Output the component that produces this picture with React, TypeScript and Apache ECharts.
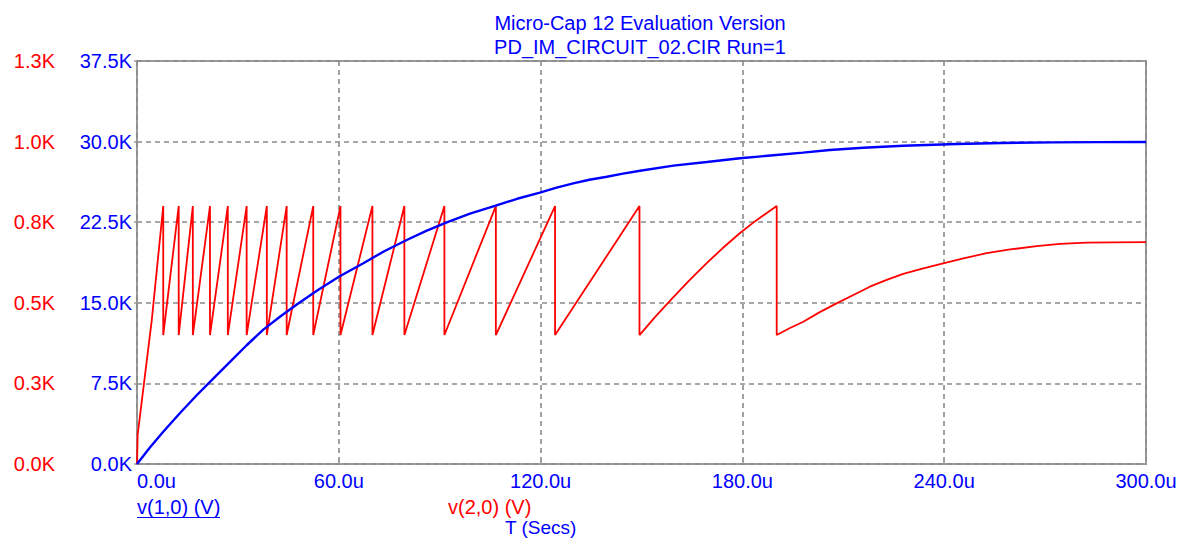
import React, { useEffect, useRef } from "react";
import * as echarts from "echarts";

// ---- data ----
// v(1,0) (V) — blue trace, [time in µs, volts]
const blueTimes = [0, 3.9, 7.8, 12.8, 17.75, 21.7, 27.65, 32.6, 37.55, 42.5, 47.5, 53.8, 60.15, 67.3, 73.5, 80.2, 86.0, 92.1, 99.0, 106.65, 113.0, 119.8, 124.5, 129.7, 134.5, 139.7, 144.5, 149.6, 159.5, 169.4, 179.3, 189.2, 198.0, 206.0, 215.9, 227.8, 243.8, 257.0, 272.4, 286.0, 300];
const blueValues = [0, 1550, 3000, 4750, 6400, 7650, 9500, 11050, 12500, 13700, 14850, 16200, 17450, 18680, 19800, 20840, 21700, 22490, 23300, 24040, 24680, 25250, 25700, 26120, 26450, 26730, 27020, 27290, 27760, 28100, 28450, 28730, 28970, 29220, 29430, 29620, 29780, 29870, 29930, 29950, 29960];

// v(2,0) (V) — red trace, [time in µs, volts]
const redTimes = [0, 0.2, 4.4, 7.8, 7.8, 12.4, 12.4, 16.6, 16.6, 21.7, 21.7, 27.0, 27.0, 32.6, 32.6, 38.6, 38.6, 44.5, 44.5, 52.4, 52.4, 60.5, 60.5, 70.0, 70.0, 79.5, 79.5, 91.4, 91.4, 106.7, 106.7, 124.3, 124.3, 149.4, 149.4, 154.0, 159.0, 164.0, 169.0, 174.0, 179.3, 184.0, 190.2, 190.2, 194.0, 198.1, 203.0, 208.0, 213.0, 217.9, 222.9, 227.8, 233.8, 239.7, 245.7, 252.6, 259.6, 267.5, 274.4, 282.4, 290.0, 300];
const redValues = [0, 95, 465, 832, 416, 832, 416, 832, 416, 832, 416, 832, 416, 832, 416, 832, 416, 832, 416, 832, 416, 832, 416, 832, 416, 832, 416, 832, 416, 832, 416, 832, 416, 832, 416, 474, 533, 590, 644, 695, 745, 785, 832, 416, 438, 459, 490, 518, 545, 572, 594, 613, 631, 647, 663, 680, 692, 703, 710, 714, 715, 716];

// tick labels
const timeTickLabels = ["0.0u", "60.0u", "120.0u", "180.0u", "240.0u", "300.0u"];
const blueTickLabels = ["0.0K", "7.5K", "15.0K", "22.5K", "30.0K", "37.5K"];
const redTickLabels = ["0.0K", "0.3K", "0.5K", "0.8K", "1.0K", "1.3K"];

const titleLines = ["Micro-Cap 12 Evaluation Version", "PD_IM_CIRCUIT_02.CIR Run=1"];
const blueName = "v(1,0) (V)";
const redName = "v(2,0) (V)";
const xName = "T (Secs)";

const FONT = "'Liberation Sans', Arial, sans-serif";
const BLUE = "#0000ff";
const RED = "#ff0000";
const GRID_GRAY = "#8a8a8a";

export default function App() {
  const ref = useRef<HTMLDivElement>(null);

  useEffect(() => {
    document.body.style.margin = "0";
    if (!ref.current) return;
    const chart = echarts.init(ref.current, undefined, { renderer: "svg" });

    const blueData = blueTimes.map((t, i) => [t, blueValues[i]]);
    const redData = redTimes.map((t, i) => [t, redValues[i]]);

    const option: any = {
      animation: false,
      backgroundColor: "#ffffff",
      grid: {
        left: 137,
        top: 61,
        right: 34,
        bottom: 76,
        show: true,
        borderColor: "#9a9a9a",
        borderWidth: 2,
        backgroundColor: "transparent",
      },
      xAxis: {
        type: "value",
        min: 0,
        max: 300,
        interval: 60,
        axisLine: { show: false },
        axisTick: { show: true, inside: true, length: 4, lineStyle: { color: "#9a9a9a", width: 1.5 } },
        axisLabel: {
          margin: 7,
          color: BLUE,
          fontFamily: FONT,
          fontSize: 20,
          alignMinLabel: "left",
          formatter: (v: number) => timeTickLabels[Math.round(v / 60)],
        },
        splitLine: { show: true, lineStyle: { color: GRID_GRAY, width: 1.6, type: [5, 4] } },
      },
      yAxis: [
        {
          type: "value",
          min: 0,
          max: 37500,
          interval: 7500,
          position: "left",
          axisLine: { show: false },
          axisTick: { show: true, length: 3, lineStyle: { color: "#9a9a9a", width: 1.5 } },
          axisLabel: {
            margin: 5,
            color: BLUE,
            fontFamily: FONT,
            fontSize: 20,
            formatter: (v: number) => blueTickLabels[Math.round(v / 7500)],
          },
          splitLine: { show: true, lineStyle: { color: GRID_GRAY, width: 1.6, type: [5, 4] } },
        },
        {
          type: "value",
          min: 0,
          max: 1300,
          interval: 260,
          position: "left",
          offset: 77,
          axisLine: { show: false },
          axisTick: { show: false },
          axisLabel: {
            margin: 5,
            color: RED,
            fontFamily: FONT,
            fontSize: 20,
            formatter: (v: number) => redTickLabels[Math.round(v / 260)],
          },
          splitLine: { show: false },
        },
      ],
      series: [
        {
          name: redName,
          type: "line",
          yAxisIndex: 1,
          data: redData,
          showSymbol: false,
          symbol: "none",
          lineStyle: { color: RED, width: 1.8 },
          itemStyle: { color: RED },
        },
        {
          name: blueName,
          type: "line",
          yAxisIndex: 0,
          data: blueData,
          showSymbol: false,
          symbol: "none",
          lineStyle: { color: BLUE, width: 2.4 },
          itemStyle: { color: BLUE },
        },
      ],
      graphic: [
        {
          type: "text",
          x: 640,
          y: 23,
          style: { text: titleLines[0], fill: BLUE, font: `20px ${FONT}`, textAlign: "center", textVerticalAlign: "middle" },
        },
        {
          type: "text",
          x: 640,
          y: 47,
          style: { text: titleLines[1], fill: BLUE, font: `20px ${FONT}`, textAlign: "center", textVerticalAlign: "middle" },
        },
        {
          type: "text",
          x: 137,
          y: 507,
          style: { text: blueName, fill: BLUE, font: `20px ${FONT}`, textAlign: "left", textVerticalAlign: "middle" },
        },
        {
          type: "line",
          shape: { x1: 137, y1: 517.5, x2: 220, y2: 517.5 },
          style: { stroke: BLUE, lineWidth: 1 },
        },
        {
          type: "text",
          x: 448,
          y: 507,
          style: { text: redName, fill: RED, font: `20px ${FONT}`, textAlign: "left", textVerticalAlign: "middle" },
        },
        {
          type: "text",
          x: 505,
          y: 527,
          style: { text: xName, fill: BLUE, font: `19px ${FONT}`, textAlign: "left", textVerticalAlign: "middle" },
        },
      ],
    };

    chart.setOption(option);
    return () => chart.dispose();
  }, []);

  return <div ref={ref} style={{ width: 1180, height: 540 }} />;
}
